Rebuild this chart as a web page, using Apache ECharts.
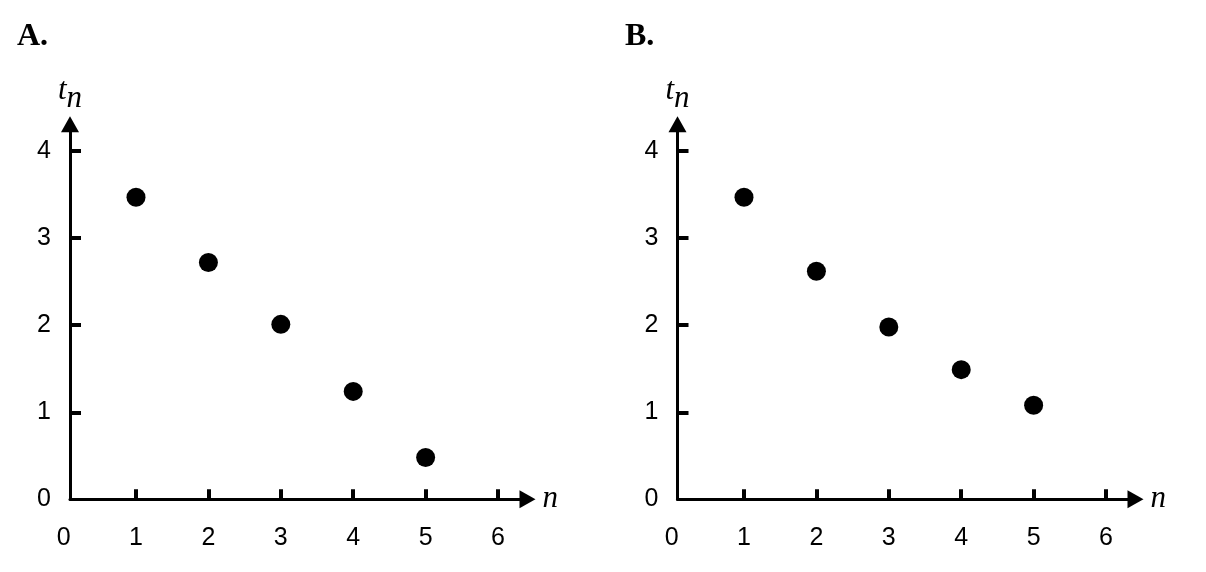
<!DOCTYPE html>
<html>
<head>
<meta charset="utf-8">
<script src="https://cdn.jsdelivr.net/npm/echarts@6/dist/echarts.min.js"></script>
<style>
html,body{margin:0;padding:0;background:#fff;}
#chart{width:1206px;height:572px;}
</style>
</head>
<body>
<div id="chart"></div>
<script>
// ---- data ----
const nValues = [1, 2, 3, 4, 5];
const tA = [3.47, 2.72, 2.01, 1.24, 0.48];
const tB = [3.47, 2.62, 1.98, 1.49, 1.08];
const xTickLabels = [0, 1, 2, 3, 4, 5, 6];
const yTickLabels = [0, 1, 2, 3, 4];
const panelTitles = ['A.', 'B.'];

// ---- layout ----
const X_MAX = 6.407, Y_MAX = 4.31;
const GRID_TOP = 124.2, GRID_BOTTOM = 72.7;
const panels = [
  {zeroLeft: 63.6, axisLeft: 70, right: 1206 - 527.5, titleLeft: 17, data: tA},
  {zeroLeft: 671.6, axisLeft: 677.5, right: 1206 - 1135.5, titleLeft: 625, data: tB}
];
const labelFont = {fontFamily: 'Liberation Sans', fontSize: 25, color: '#000'};

const grid = [], xAxis = [], yAxis = [], series = [], title = [];
panels.forEach((p, i) => {
  grid.push({left: p.zeroLeft, right: p.right, top: GRID_TOP, bottom: GRID_BOTTOM, containLabel: false});
  grid.push({left: p.axisLeft, right: p.right, top: GRID_TOP, bottom: GRID_BOTTOM, containLabel: false});
  const gP = 2 * i, gL = 2 * i + 1;
  xAxis.push({
    gridIndex: gP, type: 'value', min: 0, max: X_MAX,
    axisLine: {show: false},
    axisTick: {show: true, inside: true, length: 10, lineStyle: {color: '#000', width: 4}, customValues: xTickLabels.slice(1)},
    axisLabel: Object.assign({show: true, margin: 26, customValues: xTickLabels}, labelFont),
    splitLine: {show: false}
  });
  xAxis.push({
    gridIndex: gL, type: 'value', min: 0, max: 1,
    axisLine: {show: true, onZero: false, lineStyle: {color: '#000', width: 3}, symbol: ['none', 'triangle'], symbolSize: [18, 16]},
    axisTick: {show: false}, axisLabel: {show: false}, splitLine: {show: false},
    name: 'n', nameLocation: 'end', nameGap: 15,
    nameTextStyle: {fontFamily: 'Liberation Serif', fontStyle: 'italic', fontSize: 31, color: '#000', padding: [0, 0, 6, 0]}
  });
  yAxis.push({
    gridIndex: gP, type: 'value', min: 0, max: Y_MAX, show: false
  });
  yAxis.push({
    gridIndex: gL, type: 'value', min: 0, max: Y_MAX,
    axisLine: {show: true, onZero: false, lineStyle: {color: '#000', width: 3}, symbol: ['none', 'triangle'], symbolSize: [18, 16]},
    axisTick: {show: true, inside: true, length: 11, lineStyle: {color: '#000', width: 4}, customValues: yTickLabels.slice(1)},
    axisLabel: Object.assign({show: true, margin: 19, customValues: yTickLabels}, labelFont),
    splitLine: {show: false},
    name: '{t|t}{s|n}', nameLocation: 'end', nameGap: 18,
    nameTextStyle: {
      align: 'center', verticalAlign: 'bottom',
      rich: {
        t: {fontFamily: 'Liberation Serif', fontStyle: 'italic', fontSize: 31, color: '#000', verticalAlign: 'top', lineHeight: 31},
        s: {fontFamily: 'Liberation Serif', fontStyle: 'italic', fontSize: 31, color: '#000', verticalAlign: 'top', lineHeight: 31, padding: [8, 0, 0, 0]}
      }
    }
  });
  series.push({
    type: 'scatter', xAxisIndex: gP, yAxisIndex: gP,
    symbol: 'circle', symbolSize: 19,
    itemStyle: {color: '#000', opacity: 1},
    data: nValues.map((n, k) => [n, p.data[k]])
  });
  title.push({
    text: panelTitles[i], left: p.titleLeft, top: 21, padding: 0,
    textStyle: {fontFamily: 'Liberation Serif', fontWeight: 'bold', fontSize: 32, color: '#000'}
  });
});

const chart = echarts.init(document.getElementById('chart'), null, {renderer: 'canvas'});
chart.setOption({
  animation: false,
  backgroundColor: '#fff',
  title, grid, xAxis, yAxis, series
});
</script>
</body>
</html>
